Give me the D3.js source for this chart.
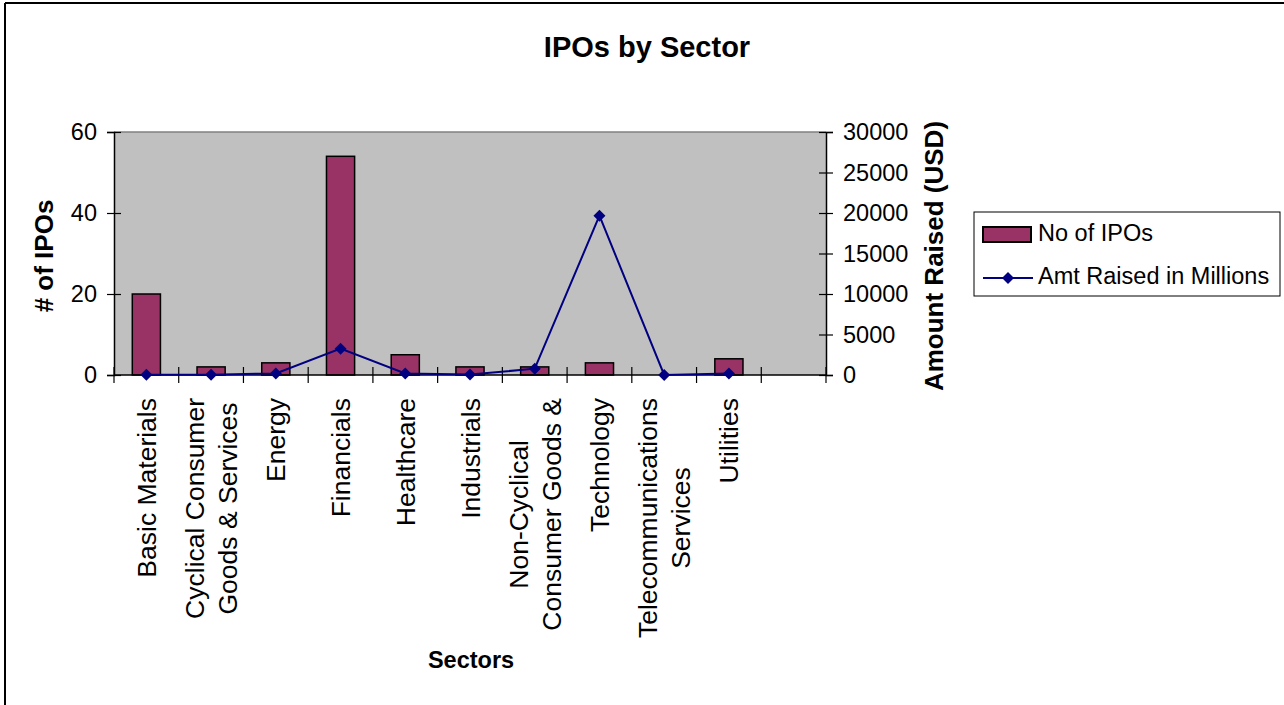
<html>
<head>
  <meta charset="UTF-8">
  <title>IPOs by Sector</title>
  <style>
    body { margin: 0; padding: 0; background: #fff; }
    svg { display: block; font-family: "Liberation Sans", Arial, sans-serif; }
  </style>
</head>
<body>
  <div id="chart"></div>
  <script src="https://cdnjs.cloudflare.com/ajax/libs/d3/7.8.4/d3.min.js"></script>
  <script>
    // chart data
    const sectors = [
      "Basic Materials",
      "Cyclical Consumer\nGoods & Services",
      "Energy",
      "Financials",
      "Healthcare",
      "Industrials",
      "Non-Cyclical\nConsumer Goods &",
      "Technology",
      "Telecommunications\nServices",
      "Utilities"
    ];
    const ipoCounts = [20, 2, 3, 54, 5, 2, 2, 3, 0, 4];
    const amtRaised = [30, 40, 200, 3250, 200, 50, 780, 19670, 0, 200];
    const leftTicks = [0, 20, 40, 60];
    const rightTicks = [0, 5000, 10000, 15000, 20000, 25000, 30000];

    const width = 1284, height = 705;
    const plot = { left: 114, right: 826, top: 132, bottom: 375 };

    const svg = d3.select("#chart").append("svg")
      .attr("width", width)
      .attr("height", height);

    // frame (only top and left edges show)
    svg.append("line").attr("x1", 5).attr("x2", width).attr("y1", 3).attr("y2", 3)
      .attr("stroke", "#000").attr("stroke-width", 2);
    svg.append("line").attr("x1", 5).attr("x2", 5).attr("y1", 3).attr("y2", height)
      .attr("stroke", "#000").attr("stroke-width", 2);

    // 11 slots, the last is empty
    const slots = sectors.map((d, i) => i).concat([sectors.length]);
    const x = d3.scaleBand().domain(slots).range([plot.left, plot.right]).padding(0);
    const yL = d3.scaleLinear().domain([0, 60]).range([plot.bottom, plot.top]);
    const yR = d3.scaleLinear().domain([0, 30000]).range([plot.bottom, plot.top]);

    // plot area
    svg.append("rect")
      .attr("x", plot.left).attr("y", plot.top)
      .attr("width", plot.right - plot.left).attr("height", plot.bottom - plot.top)
      .attr("fill", "#c0c0c0");
    svg.append("line").attr("x1", plot.left).attr("x2", plot.right)
      .attr("y1", plot.top).attr("y2", plot.top)
      .attr("stroke", "#808080").attr("stroke-width", 1.5);

    // bars
    const barW = x.bandwidth() / 2.3;
    svg.selectAll("rect.bar")
      .data(ipoCounts.map((v, i) => ({ v, i })).filter(d => d.v > 0))
      .enter().append("rect")
      .attr("class", "bar")
      .attr("x", d => x(d.i) + (x.bandwidth() - barW) / 2)
      .attr("y", d => yL(d.v))
      .attr("width", barW)
      .attr("height", d => yL(0) - yL(d.v))
      .attr("fill", "#993366")
      .attr("stroke", "#000")
      .attr("stroke-width", 1.5);

    // axes
    const tickFont = 23.5;
    const leftAxis = svg.append("g").attr("transform", `translate(${plot.left},0)`)
      .call(d3.axisLeft(yL).tickValues(leftTicks).tickSize(7).tickPadding(10));
    const rightAxis = svg.append("g").attr("transform", `translate(${plot.right},0)`)
      .call(d3.axisRight(yR).tickValues(rightTicks).tickFormat(d3.format("d")).tickSize(7).tickPadding(10));
    [leftAxis, rightAxis].forEach(g => {
      g.select(".domain").attr("stroke", "#000").attr("stroke-width", 1.5);
      g.selectAll(".tick text").attr("font-size", tickFont).attr("fill", "#000")
        .attr("font-family", "Liberation Sans, Arial, sans-serif");
      g.selectAll(".tick line").attr("stroke", "#000").attr("stroke-width", 1.2);
    });
    // ticks cross the axis line
    leftAxis.selectAll(".tick line").attr("x1", 7).attr("x2", -7);
    rightAxis.selectAll(".tick line").attr("x1", -7).attr("x2", 7);

    // category axis: ticks at slot boundaries
    const bounds = slots.map(i => x(i)).concat([plot.right]);
    svg.append("line").attr("x1", plot.left).attr("x2", plot.right)
      .attr("y1", plot.bottom).attr("y2", plot.bottom)
      .attr("stroke", "#000").attr("stroke-width", 1.5);
    svg.selectAll("line.xtick").data(bounds).enter().append("line")
      .attr("class", "xtick")
      .attr("x1", d => d).attr("x2", d => d)
      .attr("y1", plot.bottom - 8).attr("y2", plot.bottom + 8)
      .attr("stroke", "#000").attr("stroke-width", 1.2);

    // rotated category labels
    const catFont = 26.5, lineGap = 33, labelTop = 398;
    sectors.forEach((s, i) => {
      const lines = s.split("\n");
      const cx = x(i) + x.bandwidth() / 2;
      const g = svg.append("g");
      const texts = lines.map((ln, k) => {
        const off = (k - (lines.length - 1) / 2) * lineGap;
        return g.append("text")
          .attr("font-size", catFont)
          .attr("text-anchor", "middle")
          .attr("fill", "#000")
          .attr("data-x", cx + off)
          .text(ln);
      });
      const maxLen = d3.max(texts, t => t.node().getComputedTextLength());
      const cy = labelTop + maxLen / 2;
      texts.forEach(t => {
        const tx = +t.attr("data-x");
        t.attr("transform", `translate(${tx + 9.5},${cy}) rotate(-90)`);
      });
    });

    // line series
    const pts = amtRaised.map((v, i) => [x(i) + x.bandwidth() / 2, yR(v)]);
    svg.append("path")
      .attr("d", d3.line()(pts))
      .attr("fill", "none")
      .attr("stroke", "#000080")
      .attr("stroke-width", 2);
    svg.selectAll("path.mark").data(pts).enter().append("path")
      .attr("class", "mark")
      .attr("transform", d => `translate(${d[0]},${d[1]}) rotate(45)`)
      .attr("d", d3.symbol().type(d3.symbolSquare).size(72))
      .attr("fill", "#000080");

    // titles
    svg.append("text")
      .attr("x", 647).attr("y", 57)
      .attr("text-anchor", "middle")
      .attr("font-size", 29).attr("font-weight", "bold")
      .text("IPOs by Sector");
    svg.append("text")
      .attr("x", 471).attr("y", 668)
      .attr("text-anchor", "middle")
      .attr("font-size", 23.5).attr("font-weight", "bold")
      .text("Sectors");
    svg.append("text")
      .attr("transform", `translate(53,256) rotate(-90)`)
      .attr("text-anchor", "middle")
      .attr("font-size", 26).attr("font-weight", "bold")
      .text("# of IPOs");
    svg.append("text")
      .attr("transform", `translate(943,256) rotate(-90)`)
      .attr("text-anchor", "middle")
      .attr("font-size", 26).attr("font-weight", "bold")
      .text("Amount Raised (USD)");

    // legend
    const lg = svg.append("g");
    lg.append("rect")
      .attr("x", 974).attr("y", 212).attr("width", 306).attr("height", 84)
      .attr("fill", "#fff").attr("stroke", "#000").attr("stroke-width", 1);
    lg.append("rect")
      .attr("x", 983).attr("y", 227).attr("width", 48).attr("height", 15)
      .attr("fill", "#993366").attr("stroke", "#000").attr("stroke-width", 2);
    lg.append("text").attr("x", 1038).attr("y", 241)
      .attr("font-size", 23.5).text("No of IPOs");
    lg.append("line").attr("x1", 983).attr("x2", 1033).attr("y1", 278).attr("y2", 278)
      .attr("stroke", "#000080").attr("stroke-width", 2);
    lg.append("path")
      .attr("transform", "translate(1008,278) rotate(45)")
      .attr("d", d3.symbol().type(d3.symbolSquare).size(72))
      .attr("fill", "#000080");
    lg.append("text").attr("x", 1038).attr("y", 284)
      .attr("font-size", 23.5).text("Amt Raised in Millions");
  </script>
</body>
</html>
